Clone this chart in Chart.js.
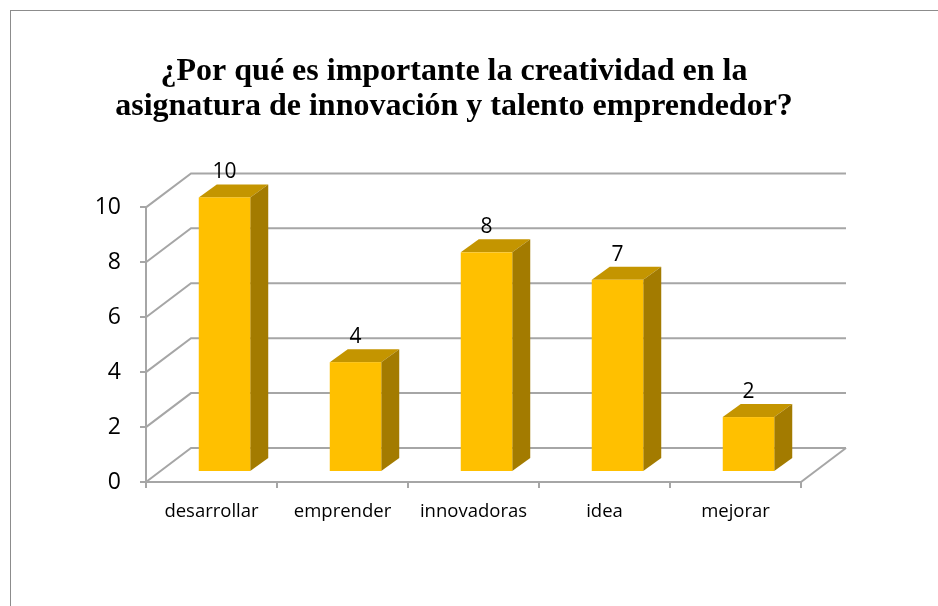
<!DOCTYPE html>
<html>
<head>
<meta charset="utf-8">
<script src="https://cdn.jsdelivr.net/npm/chart.js@4"></script>
<style>
  html, body { margin: 0; padding: 0; background: #fff; overflow: hidden; }
  #frame { position: absolute; left: 10px; top: 10px; width: 960px; height: 620px;
           border-left: 1px solid #8c8c8c; border-top: 1px solid #8c8c8c; }
  #stage { position: absolute; left: 0; top: 0; }
</style>
</head>
<body>
<div id="frame"></div>
<canvas id="stage" width="938" height="606"></canvas>
<script>
// datos
const categorias = ['desarrollar', 'emprender', 'innovadoras', 'idea', 'mejorar'];
const valores = [10, 4, 8, 7, 2];
const yTicks = [0, 2, 4, 6, 8, 10];
const titulo = ['¿Por qué es importante la creatividad en la', 'asignatura de innovación y talento emprendedor?'];

const canvas = document.getElementById('stage');
const gris = '#a6a6a6';
// desplazamientos de la perspectiva 3D
const pared = [45, -34];   // pared del fondo
const plano = [13, -10];   // cara frontal de las barras
const fondo = [18, -13];   // profundidad de cada barra

const efecto3d = {
  id: 'efecto3d',
  beforeDatasetsDraw(chart) {
    const ctx = chart.ctx;
    const y = chart.scales.y;
    const a = chart.chartArea;
    ctx.save();
    ctx.strokeStyle = gris;
    ctx.lineWidth = 2;
    yTicks.forEach(v => {
      const py = y.getPixelForValue(v);
      ctx.beginPath();
      ctx.moveTo(a.left, py);
      ctx.lineTo(a.left + pared[0], py + pared[1]);
      ctx.lineTo(a.right + pared[0], py + pared[1]);
      ctx.stroke();
    });
    // suelo, lado derecho
    ctx.beginPath();
    ctx.moveTo(a.right, a.bottom);
    ctx.lineTo(a.right + pared[0], a.bottom + pared[1]);
    ctx.stroke();
    ctx.restore();
  },
  afterDatasetsDraw(chart) {
    const ctx = chart.ctx;
    const barras = chart.getDatasetMeta(0).data;
    ctx.save();
    barras.forEach((b, i) => {
      const x0 = b.x - b.width / 2 + plano[0];
      const w = b.width;
      const top = b.y + plano[1];
      const bot = b.base + plano[1];
      // cara superior
      ctx.fillStyle = '#c49500';
      ctx.beginPath();
      ctx.moveTo(x0, top);
      ctx.lineTo(x0 + w, top);
      ctx.lineTo(x0 + w + fondo[0], top + fondo[1]);
      ctx.lineTo(x0 + fondo[0], top + fondo[1]);
      ctx.closePath();
      ctx.fill();
      // cara lateral
      ctx.fillStyle = '#a37b00';
      ctx.beginPath();
      ctx.moveTo(x0 + w, top);
      ctx.lineTo(x0 + w + fondo[0], top + fondo[1]);
      ctx.lineTo(x0 + w + fondo[0], bot + fondo[1]);
      ctx.lineTo(x0 + w, bot);
      ctx.closePath();
      ctx.fill();
      // cara frontal
      ctx.fillStyle = '#ffc000';
      ctx.fillRect(x0, top, w, bot - top);
      // etiqueta de valor
      ctx.fillStyle = '#000';
      ctx.font = '21px "Open Sans"';
      ctx.textAlign = 'center';
      ctx.textBaseline = 'alphabetic';
      ctx.fillText(String(valores[i]), x0 + w / 2, top + fondo[1] - 6);
    });
    ctx.restore();
  }
};

let chart;
function makeGraph() {
  const data = {
    labels: categorias,
    datasets: [{
      data: valores,
      backgroundColor: 'rgba(0,0,0,0)',
      borderWidth: 0,
      barPercentage: 0.393,
      categoryPercentage: 1
    }]
  };
  const options = {
    responsive: false,
    animation: false,
    layout: { padding: { left: 86, right: 116, top: 10, bottom: 64 } },
    plugins: {
      legend: { display: false },
      tooltip: { enabled: false },
      title: {
        display: true,
        text: titulo,
        color: '#000',
        font: { family: '"Liberation Serif"', size: 32, weight: 'bold', lineHeight: 1.1 },
        padding: { top: 44, bottom: 83 }
      }
    },
    scales: {
      x: {
        grid: { offset: true, drawOnChartArea: false, tickLength: 6, color: gris, lineWidth: 2 },
        border: { color: gris, width: 2 },
        ticks: { color: '#000', font: { family: '"Open Sans"', size: 18.5 }, padding: 13, maxRotation: 0 },
        afterFit(s) { s.height = 60; }
      },
      y: {
        min: 0,
        max: 10,
        afterBuildTicks(s) { s.ticks = yTicks.map(v => ({ value: v })); },
        grid: { drawOnChartArea: false, tickLength: 6, color: gris, lineWidth: 2 },
        border: { color: gris, width: 2 },
        ticks: { color: '#000', font: { family: '"Open Sans"', size: 23 }, padding: 19 },
        afterFit(s) { s.width = 60; }
      },
      // eje vacio a la derecha, solo reserva el espacio de la pared del fondo
      yDer: {
        type: 'linear',
        position: 'right',
        grid: { display: false },
        border: { display: false },
        ticks: { display: false },
        afterFit(s) { s.width = 21; }
      }
    }
  };
  chart = new Chart(canvas, {
    type: 'bar',
    data: data,
    options: options,
    plugins: [efecto3d]
  });
}

window.addEventListener('DOMContentLoaded', () => {
  makeGraph();
});
</script>
</body>
</html>
